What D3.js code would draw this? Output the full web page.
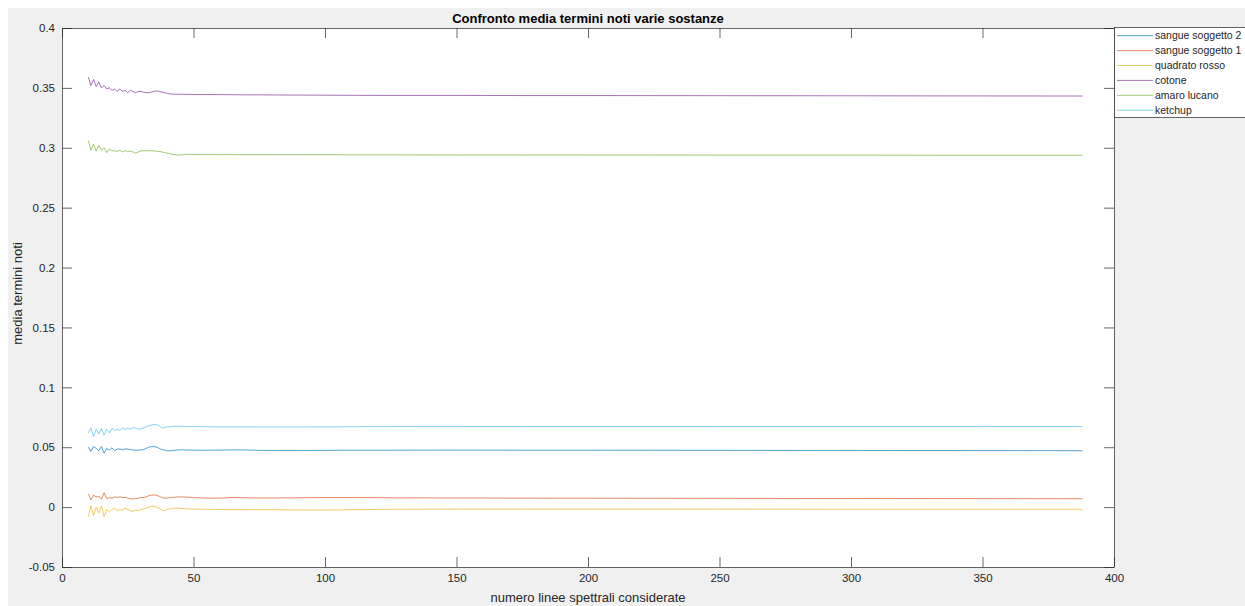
<!DOCTYPE html>
<html>
<head>
<meta charset="utf-8">
<script src="https://cdn.jsdelivr.net/npm/d3@7"></script>
<style>
  html, body { margin: 0; padding: 0; background: #ffffff; }
  svg { display: block; font-family: "Liberation Sans", Arial, Helvetica, sans-serif; }
</style>
</head>
<body>
<svg id="chart" width="1245" height="606"></svg>
<script>
// Number of spectral lines considered (x values shared by all series)
const xValues = [
  10, 11, 12, 13, 14, 15, 16, 17, 18, 19, 20, 21, 22, 23, 24, 25, 26, 27, 28, 29,
  30, 31, 32, 33, 34, 35, 36, 37, 38, 39, 40, 41, 42, 43, 44, 45, 46, 47, 48, 49, 50,
  55, 60, 65, 70, 75, 80, 90, 100, 110, 125, 150, 175, 200, 250, 300, 350, 388
];

// Mean of the known terms for each substance
const sangueSoggetto2 = [
  0.0500, 0.0465, 0.0505, 0.0490, 0.0470, 0.0505, 0.0450, 0.0490, 0.0475, 0.0495,
  0.0470, 0.0485, 0.0485, 0.0480, 0.0485, 0.0485, 0.0480, 0.0478, 0.0475, 0.0475,
  0.0478, 0.0480, 0.0490, 0.0500, 0.0505, 0.0505, 0.0500, 0.0490, 0.0480, 0.0475,
  0.0470, 0.0470, 0.0472, 0.0475, 0.0477, 0.0478, 0.0478, 0.0477, 0.0476, 0.0476, 0.0475,
  0.0475, 0.0476, 0.0478, 0.0477, 0.0474, 0.0473, 0.0473, 0.0474, 0.0475, 0.0475,
  0.0476, 0.0475, 0.0475, 0.0474, 0.0473, 0.0472, 0.0471
];
const sangueSoggetto1 = [
  0.0110, 0.0060, 0.0100, 0.0085, 0.0090, 0.0065, 0.0120, 0.0070, 0.0080, 0.0075,
  0.0085, 0.0082, 0.0085, 0.0080, 0.0080, 0.0075, 0.0070, 0.0068, 0.0070, 0.0075,
  0.0080, 0.0080, 0.0085, 0.0095, 0.0100, 0.0102, 0.0098, 0.0090, 0.0080, 0.0075,
  0.0075, 0.0078, 0.0080, 0.0083, 0.0085, 0.0085, 0.0085, 0.0084, 0.0083, 0.0082, 0.0080,
  0.0075, 0.0075, 0.0080, 0.0078, 0.0076, 0.0076, 0.0078, 0.0080, 0.0080, 0.0078,
  0.0076, 0.0075, 0.0074, 0.0073, 0.0072, 0.0071, 0.0070
];
const quadratoRosso = [
  -0.0080, 0.0010, -0.0070, 0.0000, -0.0050, 0.0010, -0.0080, -0.0020, -0.0040, -0.0020,
  -0.0010, -0.0030, -0.0020, -0.0025, -0.0010, -0.0020, -0.0030, -0.0035, -0.0025, -0.0030,
  -0.0020, -0.0015, -0.0010, 0.0000, 0.0005, 0.0008, 0.0000, -0.0010, -0.0025, -0.0030,
  -0.0020, -0.0015, -0.0010, -0.0008, -0.0008, -0.0010, -0.0012, -0.0014, -0.0015, -0.0016, -0.0017,
  -0.0018, -0.0020, -0.0021, -0.0022, -0.0022, -0.0022, -0.0024, -0.0025, -0.0022, -0.0018,
  -0.0017, -0.0017, -0.0017, -0.0017, -0.0018, -0.0018, -0.0018
];
const cotone = [
  0.3590, 0.3520, 0.3570, 0.3510, 0.3550, 0.3500, 0.3520, 0.3490, 0.3500, 0.3480,
  0.3490, 0.3470, 0.3490, 0.3470, 0.3480, 0.3460, 0.3480, 0.3470, 0.3460, 0.3470,
  0.3470, 0.3465, 0.3460, 0.3460, 0.3465, 0.3470, 0.3475, 0.3470, 0.3465, 0.3460,
  0.3455, 0.3450, 0.3448, 0.3447, 0.3446, 0.3447, 0.3447, 0.3446, 0.3446, 0.3446, 0.3445,
  0.3445, 0.3444, 0.3443, 0.3442, 0.3442, 0.3441, 0.3440, 0.3439, 0.3438, 0.3437,
  0.3437, 0.3436, 0.3436, 0.3435, 0.3434, 0.3433, 0.3432
];
const amaroLucano = [
  0.3060, 0.2980, 0.3030, 0.2970, 0.3020, 0.2980, 0.3000, 0.2960, 0.2990, 0.2975,
  0.2975, 0.2970, 0.2980, 0.2965, 0.2975, 0.2970, 0.2970, 0.2965, 0.2955, 0.2965,
  0.2975, 0.2975, 0.2975, 0.2975, 0.2975, 0.2975, 0.2970, 0.2970, 0.2965, 0.2960,
  0.2955, 0.2950, 0.2945, 0.2942, 0.2940, 0.2940, 0.2942, 0.2945, 0.2945, 0.2945, 0.2944,
  0.2943, 0.2943, 0.2943, 0.2942, 0.2942, 0.2942, 0.2942, 0.2942, 0.2941, 0.2941,
  0.2940, 0.2940, 0.2940, 0.2939, 0.2939, 0.2938, 0.2938
];
const ketchup = [
  0.0620, 0.0660, 0.0590, 0.0650, 0.0610, 0.0660, 0.0600, 0.0650, 0.0620, 0.0660,
  0.0640, 0.0650, 0.0640, 0.0660, 0.0650, 0.0660, 0.0650, 0.0665, 0.0660, 0.0650,
  0.0655, 0.0660, 0.0670, 0.0680, 0.0685, 0.0690, 0.0688, 0.0680, 0.0660, 0.0665,
  0.0670, 0.0670, 0.0672, 0.0675, 0.0676, 0.0676, 0.0675, 0.0674, 0.0673, 0.0673, 0.0672,
  0.0671, 0.0670, 0.0670, 0.0670, 0.0669, 0.0669, 0.0669, 0.0670, 0.0671, 0.0672,
  0.0673, 0.0673, 0.0673, 0.0673, 0.0673, 0.0673, 0.0673
];

const seriesNames = ["sangue soggetto 2", "sangue soggetto 1", "quadrato rosso", "cotone", "amaro lucano", "ketchup"];
const seriesValues = [sangueSoggetto2, sangueSoggetto1, quadratoRosso, cotone, amaroLucano, ketchup];
const seriesColors = ["#0072bd", "#d95319", "#edb120", "#7e2f8e", "#77ac30", "#4dbeee"];

const xTicks = [0, 50, 100, 150, 200, 250, 300, 350, 400];
const yTicks = [-0.05, 0, 0.05, 0.1, 0.15, 0.2, 0.25, 0.3, 0.35, 0.4];

const titleText = "Confronto media termini noti varie sostanze";
const xLabelText = "numero linee spettrali considerate";
const yLabelText = "media termini noti";

// Layout
const W = 1245, H = 606;
const plot = { left: 62, top: 28, right: 1114, bottom: 567 };
const tickLen = 10;
const axisColor = "#262626";

const svg = d3.select("#chart");

// figure background
svg.append("rect").attr("x", 0).attr("y", 0).attr("width", W).attr("height", H).attr("fill", "#ffffff");
svg.append("rect").attr("x", 8).attr("y", 8).attr("width", W - 8).attr("height", H - 8).attr("fill", "#f0f0f0");

const x = d3.scaleLinear().domain([0, 400]).range([plot.left, plot.right]);
const y = d3.scaleLinear().domain([-0.05, 0.4]).range([plot.bottom, plot.top]);

// plot area
svg.append("rect")
  .attr("x", plot.left).attr("y", plot.top)
  .attr("width", plot.right - plot.left).attr("height", plot.bottom - plot.top)
  .attr("fill", "#ffffff");

// series lines
const line = d3.line()
  .x((d, i) => x(xValues[i]))
  .y(d => y(d));

const linesG = svg.append("g");
seriesValues.forEach((vals, k) => {
  linesG.append("path")
    .datum(vals)
    .attr("fill", "none")
    .attr("stroke", seriesColors[k])
    .attr("stroke-width", 0.9)
    .attr("stroke-opacity", 0.75)
    .attr("stroke-linejoin", "round")
    .attr("d", line);
});

// axes (ticks pointing inward, mirrored on the opposite sides)
const fontSize = "11.5px";
const bottomAxis = d3.axisBottom(x).tickValues(xTicks).tickSizeInner(-tickLen).tickSizeOuter(0).tickPadding(7)
  .tickFormat(d3.format("d"));
const topAxis = d3.axisTop(x).tickValues(xTicks).tickSizeInner(-tickLen).tickSizeOuter(0).tickFormat("");
const leftAxis = d3.axisLeft(y).tickValues(yTicks).tickSizeInner(-tickLen).tickSizeOuter(0).tickPadding(7)
  .tickFormat(d => d3.format("")(+d.toFixed(2)).replace("−", "-"));
const rightAxis = d3.axisRight(y).tickValues(yTicks).tickSizeInner(-tickLen).tickSizeOuter(0).tickFormat("");

function styleAxis(g) {
  g.select(".domain").remove();
  g.selectAll(".tick line").attr("stroke", axisColor).attr("stroke-width", 0.7);
  g.selectAll(".tick text").attr("fill", axisColor).style("font-size", fontSize)
    .style("font-family", "'Liberation Sans', Arial, sans-serif");
}

svg.append("g").attr("transform", `translate(0,${plot.bottom})`).call(bottomAxis).call(styleAxis);
svg.append("g").attr("transform", `translate(0,${plot.top})`).call(topAxis).call(styleAxis);
svg.append("g").attr("transform", `translate(${plot.left},0)`).call(leftAxis).call(styleAxis);
svg.append("g").attr("transform", `translate(${plot.right},0)`).call(rightAxis).call(styleAxis);

// plot box
svg.append("rect")
  .attr("x", plot.left + 0.5).attr("y", plot.top + 0.5)
  .attr("width", plot.right - plot.left).attr("height", plot.bottom - plot.top)
  .attr("fill", "none").attr("stroke", axisColor).attr("stroke-width", 0.7);

// title and axis labels
const midX = (plot.left + plot.right) / 2;
svg.append("text")
  .attr("x", midX).attr("y", 22.5)
  .attr("text-anchor", "middle")
  .attr("font-weight", "bold").attr("font-size", "13px").attr("fill", "#000")
  .text(titleText);

svg.append("text")
  .attr("x", midX).attr("y", 602)
  .attr("text-anchor", "middle")
  .attr("font-size", "13px").attr("fill", axisColor)
  .text(xLabelText);

svg.append("text")
  .attr("transform", `translate(22,${(plot.top + plot.bottom) / 2 - 4}) rotate(-90)`)
  .attr("text-anchor", "middle")
  .attr("font-size", "13px").attr("fill", axisColor)
  .text(yLabelText);

// legend
const legend = { x: 1114, y: 27, w: 140, h: 90, rowH: 14.9, first: 35.7 };
const lg = svg.append("g");
lg.append("rect")
  .attr("x", legend.x + 0.5).attr("y", legend.y + 0.5)
  .attr("width", legend.w).attr("height", legend.h)
  .attr("fill", "#ffffff").attr("stroke", axisColor).attr("stroke-width", 0.7);

seriesNames.forEach((name, k) => {
  const ry = legend.first + k * legend.rowH;
  lg.append("line")
    .attr("x1", 1117).attr("x2", 1153)
    .attr("y1", ry).attr("y2", ry)
    .attr("stroke", seriesColors[k]).attr("stroke-width", 0.9).attr("stroke-opacity", 0.75);
  lg.append("text")
    .attr("x", 1155).attr("y", ry)
    .attr("dy", "0.35em")
    .attr("font-size", "10.5px").attr("fill", axisColor)
    .text(name);
});
</script>
</body>
</html>
